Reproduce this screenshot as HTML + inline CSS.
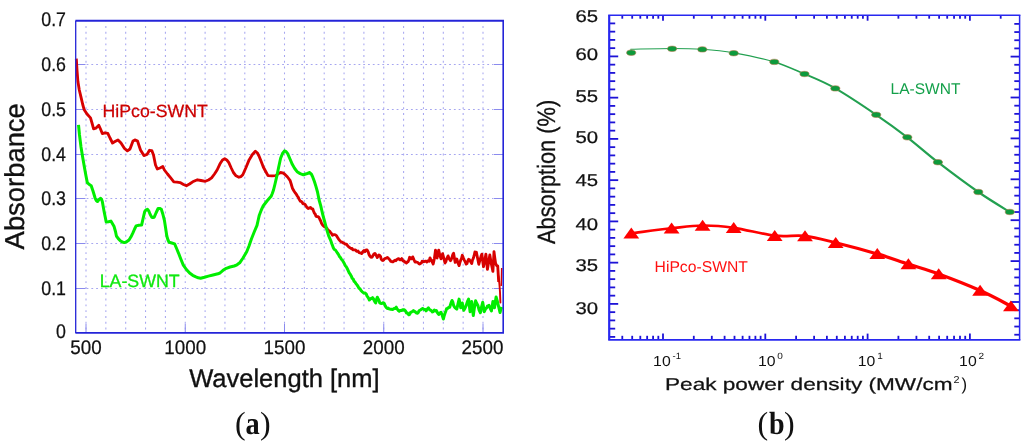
<!DOCTYPE html>
<html lang="en"><head><meta charset="utf-8"><title>SWNT absorbance and absorption</title>
<style>html,body{margin:0;padding:0;background:#fff}body{width:1024px;height:445px;overflow:hidden}svg{display:block;will-change:transform}text{font-family:"Liberation Sans", Arial, Helvetica, sans-serif;text-rendering:geometricPrecision}</style></head><body>
<svg width="1024" height="445" viewBox="0 0 1024 445">
<rect width="1024" height="445" fill="#fff"/>
<g id="panel-a">
<g stroke="#a6a6f0" stroke-width="1.05" fill="none">
<line x1="86.00" y1="21.7" x2="86.00" y2="331.9" stroke-dasharray="1.9 3.9" stroke-dashoffset="1.5"/>
<line x1="105.85" y1="21.7" x2="105.85" y2="331.9" stroke-dasharray="1.9 3.9" stroke-dashoffset="1.5"/>
<line x1="125.70" y1="21.7" x2="125.70" y2="331.9" stroke-dasharray="1.9 3.9" stroke-dashoffset="1.5"/>
<line x1="145.55" y1="21.7" x2="145.55" y2="331.9" stroke-dasharray="1.9 3.9" stroke-dashoffset="1.5"/>
<line x1="165.40" y1="21.7" x2="165.40" y2="331.9" stroke-dasharray="1.9 3.9" stroke-dashoffset="1.5"/>
<line x1="185.25" y1="21.7" x2="185.25" y2="331.9" stroke-dasharray="1.9 3.9" stroke-dashoffset="1.5"/>
<line x1="205.10" y1="21.7" x2="205.10" y2="331.9" stroke-dasharray="1.9 3.9" stroke-dashoffset="1.5"/>
<line x1="224.95" y1="21.7" x2="224.95" y2="331.9" stroke-dasharray="1.9 3.9" stroke-dashoffset="1.5"/>
<line x1="244.80" y1="21.7" x2="244.80" y2="331.9" stroke-dasharray="1.9 3.9" stroke-dashoffset="1.5"/>
<line x1="264.65" y1="21.7" x2="264.65" y2="331.9" stroke-dasharray="1.9 3.9" stroke-dashoffset="1.5"/>
<line x1="284.50" y1="21.7" x2="284.50" y2="331.9" stroke-dasharray="1.9 3.9" stroke-dashoffset="1.5"/>
<line x1="304.35" y1="21.7" x2="304.35" y2="331.9" stroke-dasharray="1.9 3.9" stroke-dashoffset="1.5"/>
<line x1="324.20" y1="21.7" x2="324.20" y2="331.9" stroke-dasharray="1.9 3.9" stroke-dashoffset="1.5"/>
<line x1="344.05" y1="21.7" x2="344.05" y2="331.9" stroke-dasharray="1.9 3.9" stroke-dashoffset="1.5"/>
<line x1="363.90" y1="21.7" x2="363.90" y2="331.9" stroke-dasharray="1.9 3.9" stroke-dashoffset="1.5"/>
<line x1="383.75" y1="21.7" x2="383.75" y2="331.9" stroke-dasharray="1.9 3.9" stroke-dashoffset="1.5"/>
<line x1="403.60" y1="21.7" x2="403.60" y2="331.9" stroke-dasharray="1.9 3.9" stroke-dashoffset="1.5"/>
<line x1="423.45" y1="21.7" x2="423.45" y2="331.9" stroke-dasharray="1.9 3.9" stroke-dashoffset="1.5"/>
<line x1="443.30" y1="21.7" x2="443.30" y2="331.9" stroke-dasharray="1.9 3.9" stroke-dashoffset="1.5"/>
<line x1="463.15" y1="21.7" x2="463.15" y2="331.9" stroke-dasharray="1.9 3.9" stroke-dashoffset="1.5"/>
<line x1="483.00" y1="21.7" x2="483.00" y2="331.9" stroke-dasharray="1.9 3.9" stroke-dashoffset="1.5"/>
<line x1="86.6" y1="288.50" x2="493.2" y2="288.50" stroke-width="1" stroke-dasharray="1.8 2.97"/>
<line x1="86.6" y1="243.50" x2="493.2" y2="243.50" stroke-width="1" stroke-dasharray="1.8 2.97"/>
<line x1="86.6" y1="198.50" x2="493.2" y2="198.50" stroke-width="1" stroke-dasharray="1.8 2.97"/>
<line x1="86.6" y1="154.50" x2="493.2" y2="154.50" stroke-width="1" stroke-dasharray="1.8 2.97"/>
<line x1="86.6" y1="109.50" x2="493.2" y2="109.50" stroke-width="1" stroke-dasharray="1.8 2.97"/>
<line x1="86.6" y1="64.50" x2="493.2" y2="64.50" stroke-width="1" stroke-dasharray="1.8 2.97"/>
</g>
<g stroke="#8a8aee" stroke-width="1.0">
<line x1="76.0" y1="288.50" x2="85.5" y2="288.50"/>
<line x1="493.7" y1="288.50" x2="503.2" y2="288.50"/>
<line x1="76.0" y1="243.50" x2="85.5" y2="243.50"/>
<line x1="493.7" y1="243.50" x2="503.2" y2="243.50"/>
<line x1="76.0" y1="198.50" x2="85.5" y2="198.50"/>
<line x1="493.7" y1="198.50" x2="503.2" y2="198.50"/>
<line x1="76.0" y1="154.50" x2="85.5" y2="154.50"/>
<line x1="493.7" y1="154.50" x2="503.2" y2="154.50"/>
<line x1="76.0" y1="109.50" x2="85.5" y2="109.50"/>
<line x1="493.7" y1="109.50" x2="503.2" y2="109.50"/>
<line x1="76.0" y1="64.50" x2="85.5" y2="64.50"/>
<line x1="493.7" y1="64.50" x2="503.2" y2="64.50"/>
<line x1="86.00" y1="323.9" x2="86.00" y2="332.9"/>
<line x1="185.25" y1="323.9" x2="185.25" y2="332.9"/>
<line x1="284.50" y1="323.9" x2="284.50" y2="332.9"/>
<line x1="383.75" y1="323.9" x2="383.75" y2="332.9"/>
<line x1="483.00" y1="323.9" x2="483.00" y2="332.9"/>
</g>
<polyline points="76.3,58.6 77.0,70.0 77.9,81.5 79.3,90.0 81.0,97.2 82.6,104.0 84.2,109.8 87.0,114.0 90.5,117.9 92.0,123.0 93.6,128.9 95.8,128.2 98.8,125.3 100.5,129.0 102.3,133.6 105.0,132.8 107.8,133.3 110.0,138.0 112.5,143.0 115.0,141.5 118.0,139.9 121.0,143.0 124.5,148.5 127.4,150.9 130.0,149.0 133.0,141.0 135.3,139.9 137.5,141.0 140.5,150.0 143.9,155.6 147.0,154.5 149.5,150.3 151.8,150.6 153.5,155.0 155.5,165.0 157.3,169.0 160.0,168.0 162.8,166.6 164.4,170.0 167.5,174.0 170.7,177.9 173.8,181.8 177.0,182.2 180.1,182.6 183.5,184.5 186.4,185.7 189.5,184.0 192.7,181.8 197.4,179.8 201.0,180.5 205.3,181.3 208.5,180.0 211.6,177.9 214.5,174.0 217.1,170.0 220.0,163.8 222.5,160.0 224.7,158.8 226.8,160.0 228.7,162.3 231.0,167.5 233.4,172.5 236.0,175.8 238.9,177.2 241.0,176.6 242.8,174.8 246.0,167.5 249.1,159.9 252.4,154.5 255.4,151.2 257.4,153.0 259.3,156.7 261.3,161.8 263.3,167.0 265.7,171.5 268.0,175.6 272.0,175.8 275.9,175.6 278.3,173.6 280.6,172.5 282.6,172.8 284.5,174.0 287.5,177.0 290.0,180.3 291.2,184.0 292.4,188.2 294.3,191.5 295.3,193.0 296.3,194.2 297.3,196.0 298.3,197.4 299.2,199.4 300.2,201.1 301.1,201.4 302.1,202.2 303.0,203.8 303.9,203.7 304.8,204.2 305.7,205.4 307.0,207.5 308.1,208.5 308.9,208.0 309.7,208.0 310.5,207.4 311.3,208.3 312.0,208.9 312.8,208.9 313.6,211.2 314.4,213.2 315.2,214.0 316.0,216.3 317.0,216.5 318.0,216.6 318.9,217.4 319.9,219.5 320.7,221.0 321.5,223.2 322.3,224.6 323.1,225.6 324.1,226.6 325.0,226.7 326.0,227.8 326.9,228.3 327.7,229.7 328.6,230.5 329.6,231.1 330.5,232.6 331.5,233.6 332.5,235.3 333.5,234.6 334.5,234.7 335.4,234.9 336.4,235.6 337.4,237.2 338.4,238.8 339.4,240.1 340.4,241.2 341.3,242.0 342.2,242.2 343.1,242.9 344.0,243.2 344.9,244.0 345.7,244.2 346.5,244.1 347.4,245.5 348.4,246.6 349.5,247.5 350.5,248.1 351.3,248.7 352.1,248.5 352.9,249.8 353.7,249.9 354.5,249.8 355.4,249.8 356.2,251.0 357.0,251.4 358.0,251.0 359.0,252.6 360.0,252.8 360.8,252.9 361.6,253.5 362.4,252.5 363.2,251.1 364.1,250.5 365.0,251.6 366.1,250.0 367.1,249.9 368.1,251.6 369.0,254.5 370.0,256.3 371.0,257.3 372.0,257.2 373.0,255.6 373.9,254.0 374.9,253.4 376.2,255.4 377.3,257.6 378.1,256.3 378.9,255.0 379.7,255.5 380.5,256.4 381.2,259.2 382.0,260.2 382.8,260.5 383.7,260.0 384.5,258.8 385.5,258.4 386.5,257.9 387.5,257.5 388.3,258.3 389.2,259.2 390.0,260.2 390.8,261.3 391.5,261.3 392.3,261.9 393.2,261.8 394.1,260.7 395.0,260.3 395.9,260.7 396.9,259.4 397.8,258.9 398.8,258.6 399.7,259.7 400.7,259.7 401.7,258.6 402.5,260.2 403.2,261.0 404.0,260.9 404.8,262.1 405.6,262.3 406.4,263.1 407.2,261.9 408.0,261.8 408.8,260.1 409.6,257.3 410.4,257.7 411.2,258.9 411.9,258.6 412.7,256.9 414.0,259.9 415.1,262.1 415.9,261.9 416.7,262.2 417.5,262.3 418.3,263.0 419.0,263.9 419.8,264.0 420.6,263.3 421.4,263.0 422.1,261.2 422.9,261.3 423.9,261.7 425.0,261.2 426.0,261.2 426.8,262.0 427.6,261.0 428.4,260.8 429.2,261.2 430.0,257.9 430.8,259.8 431.6,260.4 432.4,262.4 433.2,264.0 434.4,258.5 435.5,250.2 436.3,254.0 437.1,258.0 437.9,254.0 438.7,250.1 439.9,255.6 441.0,258.8 441.8,256.0 442.6,253.6 443.8,258.2 445.0,263.0 445.8,261.8 446.5,259.4 447.3,257.6 448.1,255.9 449.3,259.0 450.5,260.7 451.2,259.6 452.0,257.5 452.8,254.6 453.6,253.3 454.4,258.0 455.2,262.4 456.0,261.3 456.8,259.0 458.0,263.0 459.1,265.6 459.9,262.6 460.7,260.2 461.5,258.6 462.3,255.3 463.2,257.6 464.2,259.9 465.2,262.0 466.2,264.1 467.0,263.6 467.8,260.9 468.6,259.3 469.3,259.5 470.5,261.6 471.7,263.6 472.5,260.0 473.3,258.3 474.1,255.7 474.9,252.0 475.6,252.5 476.4,252.3 477.6,258.3 478.8,264.3 479.6,261.3 480.4,258.7 481.1,256.1 481.9,254.1 482.7,261.0 483.5,266.7 484.7,260.7 485.9,254.1 486.7,262.0 487.4,269.4 488.6,262.5 489.8,254.9 490.6,259.5 491.4,264.3 492.2,268.0 492.9,271.4 493.5,261.0 494.0,251.7 494.8,258.0 495.6,263.5 496.7,265.7 497.7,265.9 498.2,274.0 498.7,282.0" fill="none" stroke="#d80000" stroke-width="2.85" stroke-linejoin="round" stroke-linecap="butt"/>
<polyline points="498.4,276.0 499.4,284.0 500.0,292.0 500.4,302.5" fill="none" stroke="#d80000" stroke-width="1.9" stroke-linejoin="round" stroke-linecap="round"/>
<polyline points="501.7,268.0 501.5,277.0 501.2,286.0" fill="none" stroke="#d80000" stroke-width="1.5" stroke-linejoin="round" stroke-linecap="butt"/>
<polyline points="78.5,124.9 79.5,135.0 81.0,147.0 82.8,158.0 84.9,170.0 86.0,176.0 87.3,182.6 89.3,184.5 91.2,185.7 93.0,191.0 95.2,198.3 96.3,200.5 97.5,201.5 99.0,199.5 100.7,198.3 101.6,199.5 102.3,201.5 104.0,211.0 106.2,221.9 108.5,221.8 110.9,221.1 112.5,223.8 114.1,226.6 115.6,232.0 116.4,236.0 118.3,238.6 120.3,240.7 122.3,242.0 124.3,242.6 126.6,241.8 129.0,240.0 131.0,236.8 132.9,232.9 134.6,229.0 136.1,225.9 138.8,225.2 141.6,225.1 143.2,218.0 144.7,211.7 146.0,209.8 147.4,209.3 148.8,211.0 150.2,214.5 151.8,217.2 153.0,217.5 154.2,217.2 156.0,213.0 158.1,208.5 159.7,208.4 161.3,209.3 162.8,214.0 164.4,220.3 165.6,228.0 166.8,236.0 168.0,240.0 169.1,242.3 171.8,243.0 174.6,243.9 176.6,248.5 178.6,253.3 181.0,259.5 183.3,265.1 186.4,269.5 189.6,273.0 192.7,275.3 195.9,276.9 198.2,277.8 200.6,278.2 204.5,277.2 208.4,276.1 213.0,275.0 217.9,273.8 220.0,273.0 223.0,270.3 226.3,268.3 230.0,267.0 234.2,266.0 237.0,264.8 239.7,262.8 243.0,258.0 246.7,251.8 249.0,246.0 251.5,238.8 254.2,232.0 257.0,225.4 258.2,220.0 259.3,215.2 261.3,210.0 263.3,205.7 267.0,201.0 271.1,196.3 272.3,193.5 273.5,190.0 275.0,184.0 276.6,177.2 278.6,167.5 280.6,158.3 282.5,153.5 284.5,150.9 286.1,151.6 287.7,153.6 290.0,159.0 292.4,164.6 294.7,168.5 297.1,171.7 300.2,173.6 303.4,174.8 306.5,173.8 309.7,172.5 311.3,174.0 312.8,177.2 314.4,181.5 316.0,186.6 317.5,192.0 319.1,200.0 320.7,205.7 322.6,214.0 324.6,221.5 326.6,229.0 328.6,235.6 330.9,241.0 331.7,243.4 332.5,245.6 333.3,247.8 334.3,249.5 335.4,250.0 336.4,251.5 337.4,253.0 338.4,254.3 339.4,256.4 340.4,257.5 341.4,259.3 342.4,260.3 343.3,261.8 344.3,263.5 345.3,265.7 346.2,266.6 347.2,268.5 348.2,270.6 349.2,272.8 350.2,274.2 351.2,275.9 352.2,278.3 353.1,278.9 354.1,281.3 355.1,282.2 356.0,283.6 357.0,284.9 358.0,286.4 359.0,288.3 360.0,288.9 361.0,290.5 362.0,291.6 363.0,292.4 363.8,293.0 364.6,292.9 365.5,293.4 366.3,294.1 367.1,296.2 368.0,297.4 368.7,298.5 369.4,300.0 370.2,299.2 371.0,298.4 371.8,298.4 372.6,297.7 373.4,298.7 374.2,300.6 374.9,301.8 375.7,303.0 376.5,299.5 377.3,297.2 378.1,298.9 378.9,300.2 379.7,302.7 380.5,303.3 381.2,303.4 382.0,303.5 382.8,302.7 383.6,303.0 384.4,303.7 385.2,305.7 385.9,307.0 386.7,307.9 387.5,308.5 388.2,308.1 389.0,308.8 389.8,309.0 390.7,309.2 391.5,309.2 392.3,309.5 393.2,309.3 394.0,308.5 395.1,308.4 396.2,307.2 397.0,308.9 397.8,309.7 398.6,310.8 399.3,311.3 400.1,310.4 400.9,310.4 401.7,310.6 402.5,309.7 403.3,310.1 404.1,309.7 404.9,310.4 405.6,311.1 406.4,312.9 407.2,312.8 408.0,313.7 408.8,314.7 409.6,314.5 410.4,312.6 411.2,312.2 412.0,311.6 412.7,311.4 413.5,310.5 414.2,311.5 415.0,311.5 415.8,312.4 416.6,313.1 417.4,313.2 418.2,312.7 419.0,310.9 419.8,310.3 420.8,309.7 421.9,308.9 422.9,308.5 423.7,309.3 424.5,309.5 425.3,309.6 426.1,310.8 427.3,309.0 428.4,307.9 429.4,309.5 430.4,310.1 431.4,310.8 432.4,311.9 433.4,311.5 434.3,310.1 435.3,311.0 436.3,310.5 437.5,312.8 438.7,314.5 439.9,313.0 441.0,312.3 442.2,315.2 443.4,319.0 444.2,315.7 445.0,313.3 445.8,311.2 446.5,308.8 447.3,308.7 448.1,307.8 448.9,307.4 449.7,307.3 450.9,303.4 452.0,300.5 452.8,302.0 453.6,305.4 454.4,306.8 455.2,307.9 456.0,308.5 456.8,309.1 458.0,303.8 459.1,299.1 459.9,303.5 460.7,307.8 461.5,305.3 462.3,303.0 463.0,307.0 463.8,310.3 465.0,308.3 466.2,305.4 467.4,301.7 468.6,299.1 469.3,305.5 470.1,311.7 470.9,306.5 471.7,301.5 472.5,308.5 473.3,315.6 474.4,307.8 475.6,300.8 476.8,303.5 478.0,305.8 479.2,310.4 480.4,312.7 481.5,307.0 482.7,302.3 483.5,306.7 484.3,311.7 485.1,309.9 485.9,308.3 486.6,308.0 487.4,306.2 488.2,305.8 489.0,305.4 490.2,308.4 491.4,310.9 492.2,306.2 492.9,301.5 493.7,304.7 494.5,307.8 495.3,302.2 496.1,297.0 497.3,301.1 498.5,306.2 499.3,309.5 500.0,312.5 500.8,309.5 501.6,307.0" fill="none" stroke="#00ee00" stroke-width="3.0" stroke-linejoin="round" stroke-linecap="butt"/>
<path d="M75.4 20.7 H504.0" stroke="#2424d8" stroke-width="2.1" fill="none"/>
<path d="M75.4 332.9 H504.0" stroke="#2424d8" stroke-width="1.8" fill="none"/>
<path d="M75.7 20.7 V332.9" stroke="#2424d8" stroke-width="1.3" fill="none"/>
<path d="M503.2 20.7 V332.9" stroke="#2424d8" stroke-width="1.6" fill="none"/>
<g font-size="19.8" fill="#111" stroke="#111" stroke-width="0.25" text-anchor="end">
<text transform="translate(66.0 338.3) scale(0.9 1)">0</text>
<text transform="translate(66.0 294.9) scale(0.9 1)">0.1</text>
<text transform="translate(66.0 250.1) scale(0.9 1)">0.2</text>
<text transform="translate(66.0 205.3) scale(0.9 1)">0.3</text>
<text transform="translate(66.0 160.6) scale(0.9 1)">0.4</text>
<text transform="translate(66.0 115.8) scale(0.9 1)">0.5</text>
<text transform="translate(66.0 71.1) scale(0.9 1)">0.6</text>
<text transform="translate(66.0 26.4) scale(0.9 1)">0.7</text>
</g>
<g font-size="19.6" fill="#111" stroke="#111" stroke-width="0.25" text-anchor="middle">
<text transform="translate(86.0 354.3) scale(0.96 1)">500</text>
<text transform="translate(185.2 354.3) scale(0.96 1)">1000</text>
<text transform="translate(284.5 354.3) scale(0.96 1)">1500</text>
<text transform="translate(383.8 354.3) scale(0.96 1)">2000</text>
<text transform="translate(482.5 354.3) scale(0.96 1)">2500</text>
</g>
<text x="284.4" y="387.3" font-size="25.5" fill="#111" stroke="#111" stroke-width="0.35" text-anchor="middle">Wavelength [nm]</text>
<text transform="translate(23.5 176.3) rotate(-90)" font-size="27.4" fill="#111" stroke="#111" stroke-width="0.35" text-anchor="middle">Absorbance</text>
<text x="102.6" y="116.7" font-size="17.7" fill="#cc0000" stroke="#cc0000" stroke-width="0.25">HiPco-SWNT</text>
<text x="99.7" y="286.5" font-size="17.8" fill="#10e810" stroke="#10e810" stroke-width="0.3">LA-SWNT</text>
<text y="433.9" font-size="32" fill="#111" style="font-family:'Liberation Serif', 'Times New Roman', Times, serif"><tspan x="235.1">(</tspan><tspan x="245.6" font-weight="bold" textLength="14.2" lengthAdjust="spacingAndGlyphs">a</tspan><tspan x="260.1">)</tspan></text>
</g>
<g id="panel-b">
<g stroke="#1d12d6" stroke-width="1.8" fill="none">
<line x1="609.2" y1="336.90" x2="615.2" y2="336.90"/>
<line x1="1014.3" y1="334.72" x2="1019.6" y2="334.72"/>
<line x1="609.2" y1="328.65" x2="615.2" y2="328.65"/>
<line x1="1014.3" y1="326.54" x2="1019.6" y2="326.54"/>
<line x1="609.2" y1="320.40" x2="615.2" y2="320.40"/>
<line x1="1014.3" y1="318.36" x2="1019.6" y2="318.36"/>
<line x1="609.2" y1="312.15" x2="615.2" y2="312.15"/>
<line x1="1014.3" y1="310.18" x2="1019.6" y2="310.18"/>
<line x1="609.2" y1="303.90" x2="618.2" y2="303.90"/>
<line x1="1010.6" y1="302.00" x2="1019.6" y2="302.00"/>
<line x1="609.2" y1="295.65" x2="615.2" y2="295.65"/>
<line x1="1014.3" y1="293.82" x2="1019.6" y2="293.82"/>
<line x1="609.2" y1="287.40" x2="615.2" y2="287.40"/>
<line x1="1014.3" y1="285.64" x2="1019.6" y2="285.64"/>
<line x1="609.2" y1="279.15" x2="615.2" y2="279.15"/>
<line x1="1014.3" y1="277.46" x2="1019.6" y2="277.46"/>
<line x1="609.2" y1="270.90" x2="615.2" y2="270.90"/>
<line x1="1014.3" y1="269.28" x2="1019.6" y2="269.28"/>
<line x1="609.2" y1="262.65" x2="618.2" y2="262.65"/>
<line x1="1010.6" y1="261.10" x2="1019.6" y2="261.10"/>
<line x1="609.2" y1="254.40" x2="615.2" y2="254.40"/>
<line x1="1014.3" y1="252.92" x2="1019.6" y2="252.92"/>
<line x1="609.2" y1="246.15" x2="615.2" y2="246.15"/>
<line x1="1014.3" y1="244.74" x2="1019.6" y2="244.74"/>
<line x1="609.2" y1="237.90" x2="615.2" y2="237.90"/>
<line x1="1014.3" y1="236.56" x2="1019.6" y2="236.56"/>
<line x1="609.2" y1="229.65" x2="615.2" y2="229.65"/>
<line x1="1014.3" y1="228.38" x2="1019.6" y2="228.38"/>
<line x1="609.2" y1="221.40" x2="618.2" y2="221.40"/>
<line x1="1010.6" y1="220.20" x2="1019.6" y2="220.20"/>
<line x1="609.2" y1="213.15" x2="615.2" y2="213.15"/>
<line x1="1014.3" y1="212.02" x2="1019.6" y2="212.02"/>
<line x1="609.2" y1="204.90" x2="615.2" y2="204.90"/>
<line x1="1014.3" y1="203.84" x2="1019.6" y2="203.84"/>
<line x1="609.2" y1="196.65" x2="615.2" y2="196.65"/>
<line x1="1014.3" y1="195.66" x2="1019.6" y2="195.66"/>
<line x1="609.2" y1="188.40" x2="615.2" y2="188.40"/>
<line x1="1014.3" y1="187.48" x2="1019.6" y2="187.48"/>
<line x1="609.2" y1="180.15" x2="618.2" y2="180.15"/>
<line x1="1010.6" y1="179.30" x2="1019.6" y2="179.30"/>
<line x1="609.2" y1="171.90" x2="615.2" y2="171.90"/>
<line x1="1014.3" y1="171.12" x2="1019.6" y2="171.12"/>
<line x1="609.2" y1="163.65" x2="615.2" y2="163.65"/>
<line x1="1014.3" y1="162.94" x2="1019.6" y2="162.94"/>
<line x1="609.2" y1="155.40" x2="615.2" y2="155.40"/>
<line x1="1014.3" y1="154.76" x2="1019.6" y2="154.76"/>
<line x1="609.2" y1="147.15" x2="615.2" y2="147.15"/>
<line x1="1014.3" y1="146.58" x2="1019.6" y2="146.58"/>
<line x1="609.2" y1="138.90" x2="618.2" y2="138.90"/>
<line x1="1010.6" y1="138.40" x2="1019.6" y2="138.40"/>
<line x1="609.2" y1="130.65" x2="615.2" y2="130.65"/>
<line x1="1014.3" y1="130.22" x2="1019.6" y2="130.22"/>
<line x1="609.2" y1="122.40" x2="615.2" y2="122.40"/>
<line x1="1014.3" y1="122.04" x2="1019.6" y2="122.04"/>
<line x1="609.2" y1="114.15" x2="615.2" y2="114.15"/>
<line x1="1014.3" y1="113.86" x2="1019.6" y2="113.86"/>
<line x1="609.2" y1="105.90" x2="615.2" y2="105.90"/>
<line x1="1014.3" y1="105.68" x2="1019.6" y2="105.68"/>
<line x1="609.2" y1="97.65" x2="618.2" y2="97.65"/>
<line x1="1010.6" y1="97.50" x2="1019.6" y2="97.50"/>
<line x1="609.2" y1="89.40" x2="615.2" y2="89.40"/>
<line x1="1014.3" y1="89.32" x2="1019.6" y2="89.32"/>
<line x1="609.2" y1="81.15" x2="615.2" y2="81.15"/>
<line x1="1014.3" y1="81.14" x2="1019.6" y2="81.14"/>
<line x1="609.2" y1="72.90" x2="615.2" y2="72.90"/>
<line x1="1014.3" y1="72.96" x2="1019.6" y2="72.96"/>
<line x1="609.2" y1="64.65" x2="615.2" y2="64.65"/>
<line x1="1014.3" y1="64.78" x2="1019.6" y2="64.78"/>
<line x1="609.2" y1="56.40" x2="618.2" y2="56.40"/>
<line x1="1010.6" y1="56.60" x2="1019.6" y2="56.60"/>
<line x1="609.2" y1="48.15" x2="615.2" y2="48.15"/>
<line x1="1014.3" y1="48.42" x2="1019.6" y2="48.42"/>
<line x1="609.2" y1="39.90" x2="615.2" y2="39.90"/>
<line x1="1014.3" y1="40.24" x2="1019.6" y2="40.24"/>
<line x1="609.2" y1="31.65" x2="615.2" y2="31.65"/>
<line x1="1014.3" y1="32.06" x2="1019.6" y2="32.06"/>
<line x1="609.2" y1="23.40" x2="615.2" y2="23.40"/>
<line x1="1014.3" y1="23.88" x2="1019.6" y2="23.88"/>
<line x1="622.29" y1="15.3" x2="622.29" y2="18.7"/>
<line x1="622.29" y1="335.8" x2="622.29" y2="339.8"/>
<line x1="632.20" y1="15.3" x2="632.20" y2="18.7"/>
<line x1="632.20" y1="335.8" x2="632.20" y2="339.8"/>
<line x1="640.30" y1="15.3" x2="640.30" y2="18.7"/>
<line x1="640.30" y1="335.8" x2="640.30" y2="339.8"/>
<line x1="647.15" y1="15.3" x2="647.15" y2="18.7"/>
<line x1="647.15" y1="335.8" x2="647.15" y2="339.8"/>
<line x1="653.09" y1="15.3" x2="653.09" y2="18.7"/>
<line x1="653.09" y1="335.8" x2="653.09" y2="339.8"/>
<line x1="658.32" y1="15.3" x2="658.32" y2="18.7"/>
<line x1="658.32" y1="335.8" x2="658.32" y2="339.8"/>
<line x1="663.00" y1="15.3" x2="663.00" y2="20.7"/>
<line x1="663.00" y1="333.6" x2="663.00" y2="339.8"/>
<line x1="693.80" y1="15.3" x2="693.80" y2="18.7"/>
<line x1="693.80" y1="335.8" x2="693.80" y2="339.8"/>
<line x1="711.81" y1="15.3" x2="711.81" y2="18.7"/>
<line x1="711.81" y1="335.8" x2="711.81" y2="339.8"/>
<line x1="724.59" y1="15.3" x2="724.59" y2="18.7"/>
<line x1="724.59" y1="335.8" x2="724.59" y2="339.8"/>
<line x1="734.50" y1="15.3" x2="734.50" y2="18.7"/>
<line x1="734.50" y1="335.8" x2="734.50" y2="339.8"/>
<line x1="742.60" y1="15.3" x2="742.60" y2="18.7"/>
<line x1="742.60" y1="335.8" x2="742.60" y2="339.8"/>
<line x1="749.45" y1="15.3" x2="749.45" y2="18.7"/>
<line x1="749.45" y1="335.8" x2="749.45" y2="339.8"/>
<line x1="755.39" y1="15.3" x2="755.39" y2="18.7"/>
<line x1="755.39" y1="335.8" x2="755.39" y2="339.8"/>
<line x1="760.62" y1="15.3" x2="760.62" y2="18.7"/>
<line x1="760.62" y1="335.8" x2="760.62" y2="339.8"/>
<line x1="765.30" y1="15.3" x2="765.30" y2="20.7"/>
<line x1="765.30" y1="333.6" x2="765.30" y2="339.8"/>
<line x1="796.10" y1="15.3" x2="796.10" y2="18.7"/>
<line x1="796.10" y1="335.8" x2="796.10" y2="339.8"/>
<line x1="814.11" y1="15.3" x2="814.11" y2="18.7"/>
<line x1="814.11" y1="335.8" x2="814.11" y2="339.8"/>
<line x1="826.89" y1="15.3" x2="826.89" y2="18.7"/>
<line x1="826.89" y1="335.8" x2="826.89" y2="339.8"/>
<line x1="836.80" y1="15.3" x2="836.80" y2="18.7"/>
<line x1="836.80" y1="335.8" x2="836.80" y2="339.8"/>
<line x1="844.90" y1="15.3" x2="844.90" y2="18.7"/>
<line x1="844.90" y1="335.8" x2="844.90" y2="339.8"/>
<line x1="851.75" y1="15.3" x2="851.75" y2="18.7"/>
<line x1="851.75" y1="335.8" x2="851.75" y2="339.8"/>
<line x1="857.69" y1="15.3" x2="857.69" y2="18.7"/>
<line x1="857.69" y1="335.8" x2="857.69" y2="339.8"/>
<line x1="862.92" y1="15.3" x2="862.92" y2="18.7"/>
<line x1="862.92" y1="335.8" x2="862.92" y2="339.8"/>
<line x1="867.60" y1="15.3" x2="867.60" y2="20.7"/>
<line x1="867.60" y1="333.6" x2="867.60" y2="339.8"/>
<line x1="898.40" y1="15.3" x2="898.40" y2="18.7"/>
<line x1="898.40" y1="335.8" x2="898.40" y2="339.8"/>
<line x1="916.41" y1="15.3" x2="916.41" y2="18.7"/>
<line x1="916.41" y1="335.8" x2="916.41" y2="339.8"/>
<line x1="929.19" y1="15.3" x2="929.19" y2="18.7"/>
<line x1="929.19" y1="335.8" x2="929.19" y2="339.8"/>
<line x1="939.10" y1="15.3" x2="939.10" y2="18.7"/>
<line x1="939.10" y1="335.8" x2="939.10" y2="339.8"/>
<line x1="947.20" y1="15.3" x2="947.20" y2="18.7"/>
<line x1="947.20" y1="335.8" x2="947.20" y2="339.8"/>
<line x1="954.05" y1="15.3" x2="954.05" y2="18.7"/>
<line x1="954.05" y1="335.8" x2="954.05" y2="339.8"/>
<line x1="959.99" y1="15.3" x2="959.99" y2="18.7"/>
<line x1="959.99" y1="335.8" x2="959.99" y2="339.8"/>
<line x1="965.22" y1="15.3" x2="965.22" y2="18.7"/>
<line x1="965.22" y1="335.8" x2="965.22" y2="339.8"/>
<line x1="969.90" y1="15.3" x2="969.90" y2="20.7"/>
<line x1="969.90" y1="333.6" x2="969.90" y2="339.8"/>
<line x1="1000.70" y1="15.3" x2="1000.70" y2="18.7"/>
</g>
<path d="M630.7 49.2 C637.6 49.1 660.2 48.5 672.1 48.5" fill="none" stroke="#22a050" stroke-width="1.10" stroke-linecap="round"/>
<path d="M672.1 48.5 C684.0 48.5 692.0 48.6 702.3 49.3" fill="none" stroke="#22a050" stroke-width="1.10" stroke-linecap="round"/>
<path d="M702.3 49.3 C712.6 50.0 721.7 50.7 733.7 52.8" fill="none" stroke="#22a050" stroke-width="1.15" stroke-linecap="round"/>
<path d="M733.7 52.8 C745.7 54.9 762.5 58.4 774.3 61.9" fill="none" stroke="#22a050" stroke-width="1.30" stroke-linecap="round"/>
<path d="M774.3 61.9 C786.1 65.4 794.3 69.6 804.5 74.0" fill="none" stroke="#22a050" stroke-width="1.60" stroke-linecap="round"/>
<path d="M804.5 74.0 C814.7 78.4 823.3 81.6 835.3 88.4" fill="none" stroke="#22a050" stroke-width="1.90" stroke-linecap="round"/>
<path d="M835.3 88.4 C847.2 95.2 864.2 106.6 876.2 114.8" fill="none" stroke="#22a050" stroke-width="2.00" stroke-linecap="round"/>
<path d="M876.2 114.8 C888.2 123.0 897.0 129.4 907.3 137.3" fill="none" stroke="#22a050" stroke-width="2.10" stroke-linecap="round"/>
<path d="M907.3 137.3 C917.6 145.2 926.1 153.1 937.9 162.2" fill="none" stroke="#22a050" stroke-width="2.20" stroke-linecap="round"/>
<path d="M937.9 162.2 C949.7 171.3 966.3 183.7 978.3 192.0" fill="none" stroke="#22a050" stroke-width="2.20" stroke-linecap="round"/>
<path d="M978.3 192.0 C990.3 200.3 1004.5 208.7 1009.8 212.0" fill="none" stroke="#22a050" stroke-width="2.20" stroke-linecap="round"/>
<ellipse cx="631.2" cy="52.7" rx="4.6" ry="2.7" fill="#0d9a3c" stroke="#b0784a" stroke-width="0.6"/>
<ellipse cx="672.1" cy="48.8" rx="4.6" ry="2.7" fill="#0d9a3c" stroke="#b0784a" stroke-width="0.6"/>
<ellipse cx="702.3" cy="49.4" rx="4.6" ry="2.7" fill="#0d9a3c" stroke="#b0784a" stroke-width="0.6"/>
<ellipse cx="733.7" cy="53.2" rx="4.6" ry="2.7" fill="#0d9a3c" stroke="#b0784a" stroke-width="0.6"/>
<ellipse cx="774.3" cy="61.9" rx="4.6" ry="2.7" fill="#0d9a3c" stroke="#b0784a" stroke-width="0.6"/>
<ellipse cx="804.5" cy="74.0" rx="4.6" ry="2.7" fill="#0d9a3c" stroke="#b0784a" stroke-width="0.6"/>
<ellipse cx="835.3" cy="88.4" rx="4.6" ry="2.7" fill="#0d9a3c" stroke="#b0784a" stroke-width="0.6"/>
<ellipse cx="876.2" cy="114.8" rx="4.6" ry="2.7" fill="#0d9a3c" stroke="#b0784a" stroke-width="0.6"/>
<ellipse cx="907.3" cy="137.3" rx="4.6" ry="2.7" fill="#0d9a3c" stroke="#b0784a" stroke-width="0.6"/>
<ellipse cx="937.9" cy="162.2" rx="4.6" ry="2.7" fill="#0d9a3c" stroke="#b0784a" stroke-width="0.6"/>
<ellipse cx="978.3" cy="192.0" rx="4.6" ry="2.7" fill="#0d9a3c" stroke="#b0784a" stroke-width="0.6"/>
<ellipse cx="1009.8" cy="212.0" rx="4.6" ry="2.7" fill="#0d9a3c" stroke="#b0784a" stroke-width="0.6"/>
<path d="M631.3 233.3 C638.0 232.5 659.7 229.6 671.6 228.3" fill="none" stroke="#ff0000" stroke-width="2.60" stroke-linecap="round"/>
<path d="M671.6 228.3 C683.5 227.0 692.2 225.6 702.6 225.5" fill="none" stroke="#ff0000" stroke-width="2.60" stroke-linecap="round"/>
<path d="M702.6 225.5 C713.0 225.4 721.7 226.1 733.7 227.8" fill="none" stroke="#ff0000" stroke-width="2.60" stroke-linecap="round"/>
<path d="M733.7 227.8 C745.7 229.5 762.8 234.3 774.7 235.7" fill="none" stroke="#ff0000" stroke-width="2.70" stroke-linecap="round"/>
<path d="M774.7 235.7 C786.6 237.1 794.8 234.8 805.0 236.0" fill="none" stroke="#ff0000" stroke-width="2.80" stroke-linecap="round"/>
<path d="M805.0 236.0 C815.2 237.2 823.7 239.8 835.7 242.8" fill="none" stroke="#ff0000" stroke-width="2.90" stroke-linecap="round"/>
<path d="M835.7 242.8 C847.8 245.8 865.2 250.4 877.3 253.9" fill="none" stroke="#ff0000" stroke-width="3.10" stroke-linecap="round"/>
<path d="M877.3 253.9 C889.4 257.5 898.2 260.8 908.4 264.1" fill="none" stroke="#ff0000" stroke-width="3.20" stroke-linecap="round"/>
<path d="M908.4 264.1 C918.6 267.5 926.8 269.6 938.7 274.0" fill="none" stroke="#ff0000" stroke-width="3.30" stroke-linecap="round"/>
<path d="M938.7 274.0 C950.7 278.4 968.1 285.2 980.1 290.5" fill="none" stroke="#ff0000" stroke-width="3.40" stroke-linecap="round"/>
<path d="M980.1 290.5 C992.1 295.8 1005.8 303.4 1010.9 306.0" fill="none" stroke="#ff0000" stroke-width="3.40" stroke-linecap="round"/>
<polygon points="631.3,227.5 623.4,238.5 639.2,238.5" fill="#ff0000"/>
<polygon points="671.6,222.5 663.7,233.5 679.5,233.5" fill="#ff0000"/>
<polygon points="702.6,219.7 694.7,230.7 710.5,230.7" fill="#ff0000"/>
<polygon points="733.7,222.0 725.8,233.0 741.6,233.0" fill="#ff0000"/>
<polygon points="774.7,229.9 766.8,240.9 782.6,240.9" fill="#ff0000"/>
<polygon points="805.0,230.2 797.1,241.2 812.9,241.2" fill="#ff0000"/>
<polygon points="835.7,237.0 827.8,248.0 843.6,248.0" fill="#ff0000"/>
<polygon points="877.3,248.1 869.4,259.1 885.2,259.1" fill="#ff0000"/>
<polygon points="908.4,258.3 900.5,269.3 916.3,269.3" fill="#ff0000"/>
<polygon points="938.7,268.2 930.8,279.2 946.6,279.2" fill="#ff0000"/>
<polygon points="980.1,284.7 972.2,295.7 988.0,295.7" fill="#ff0000"/>
<polygon points="1010.9,300.4 1003.0,311.2 1018.8,311.2" fill="#ff0000"/>
<path d="M608.2 15.3 H1020.4" stroke="#2828f0" stroke-width="1.6" fill="none"/>
<path d="M608.2 339.9 H1020.4" stroke="#2828f0" stroke-width="1.8" fill="none"/>
<path d="M609.2 15.3 V339.8" stroke="#2828f0" stroke-width="2.2" fill="none"/>
<path d="M1019.6 15.3 V339.8" stroke="#2828f0" stroke-width="1.5" fill="none"/>
<g font-size="17" fill="#111" stroke="#111" stroke-width="0.25" text-anchor="end">
<text x="598.0" y="21.9" textLength="22.6" lengthAdjust="spacingAndGlyphs">65</text>
<text x="598.0" y="60.0" textLength="22.6" lengthAdjust="spacingAndGlyphs">60</text>
<text x="598.0" y="101.8" textLength="22.6" lengthAdjust="spacingAndGlyphs">55</text>
<text x="598.0" y="142.7" textLength="22.6" lengthAdjust="spacingAndGlyphs">50</text>
<text x="598.0" y="185.7" textLength="22.6" lengthAdjust="spacingAndGlyphs">45</text>
<text x="598.0" y="230.2" textLength="22.6" lengthAdjust="spacingAndGlyphs">40</text>
<text x="598.0" y="271.4" textLength="22.6" lengthAdjust="spacingAndGlyphs">35</text>
<text x="598.0" y="313.8" textLength="22.6" lengthAdjust="spacingAndGlyphs">30</text>
</g>
<g fill="#111">
<text x="653.1" y="366.0" font-size="14.4" textLength="17.6" lengthAdjust="spacingAndGlyphs">10</text>
<text x="672.5" y="359.0" font-size="9" textLength="8.4" lengthAdjust="spacingAndGlyphs">-1</text>
<text x="757.9" y="366.0" font-size="14.4" textLength="17.6" lengthAdjust="spacingAndGlyphs">10</text>
<text x="777.3" y="359.0" font-size="9" textLength="5.6" lengthAdjust="spacingAndGlyphs">0</text>
<text x="857.8" y="366.0" font-size="14.4" textLength="17.6" lengthAdjust="spacingAndGlyphs">10</text>
<text x="877.2" y="359.0" font-size="9" textLength="5.6" lengthAdjust="spacingAndGlyphs">1</text>
<text x="959.1" y="366.0" font-size="14.4" textLength="17.6" lengthAdjust="spacingAndGlyphs">10</text>
<text x="978.5" y="359.0" font-size="9" textLength="5.6" lengthAdjust="spacingAndGlyphs">2</text>
</g>
<text x="665.0" y="389.5" font-size="17.2" fill="#111" stroke="#111" stroke-width="0.25" textLength="287.6" lengthAdjust="spacingAndGlyphs">Peak power density (MW/cm</text>
<text x="953.4" y="383.0" font-size="10" fill="#111" textLength="6.0" lengthAdjust="spacingAndGlyphs">2</text>
<text x="961.6" y="389.5" font-size="17.2" fill="#111" textLength="5.6" lengthAdjust="spacingAndGlyphs">)</text>
<text transform="translate(555.2 171.9) rotate(-90) scale(1 1.15)" font-size="21.8" fill="#111" stroke="#111" stroke-width="0.25" text-anchor="middle">Absorption (%)</text>
<text x="890.6" y="94.4" font-size="15.5" fill="#14a04a">LA-SWNT</text>
<text x="654.6" y="271.7" font-size="15.7" fill="#ff1010">HiPco-SWNT</text>
<text y="433.9" font-size="32" fill="#111" style="font-family:'Liberation Serif', 'Times New Roman', Times, serif"><tspan x="757.5">(</tspan><tspan x="768.9" font-weight="bold" textLength="15.6" lengthAdjust="spacingAndGlyphs">b</tspan><tspan x="784.0">)</tspan></text>
</g>
</svg></body></html>
